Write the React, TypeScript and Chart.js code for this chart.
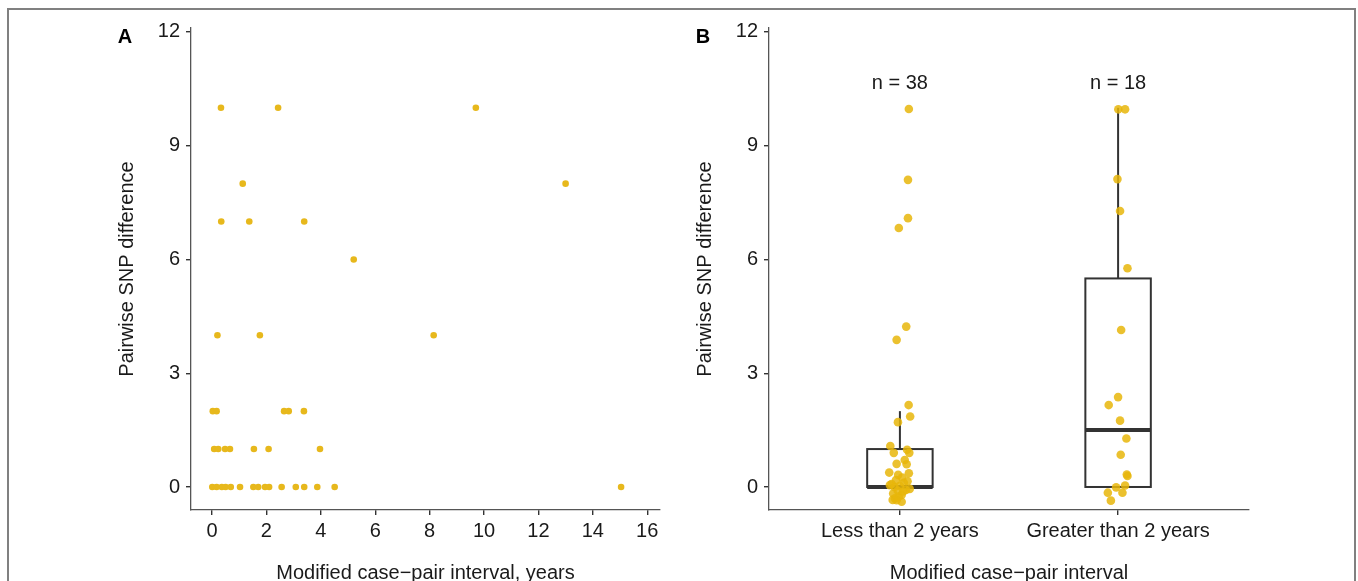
import React, { useEffect, useRef } from "react";
import { Chart, registerables } from "chart.js";

Chart.register(...registerables);

// ---------- data ----------
const snpTickValues = [0, 3, 6, 9, 12];
const intervalTickValues = [0, 2, 4, 6, 8, 10, 12, 14, 16];

// Panel A: modified case-pair interval (years) vs pairwise SNP difference
const intervalYearsA = [
  0.33, 2.43, 9.7,
  1.13, 13.0,
  0.34, 1.37, 3.39,
  5.21,
  0.2, 1.76, 8.15,
  0.03, 0.17, 2.65, 2.82, 3.38,
  0.08, 0.23, 0.48, 0.66, 1.54, 2.08, 3.97,
  0.01, 0.17, 0.36, 0.5, 0.69, 1.03, 1.52, 1.7, 1.95, 2.1, 2.56, 3.08, 3.39, 3.87, 4.51, 15.04,
];
const snpDiffA = [
  10, 10, 10,
  8, 8,
  7, 7, 7,
  6,
  4, 4, 4,
  2, 2, 2, 2, 2,
  1, 1, 1, 1, 1, 1, 1,
  0, 0, 0, 0, 0, 0, 0, 0, 0, 0, 0, 0, 0, 0, 0, 0,
];

// Panel B: groups
const groupLabels = ["Less than 2 years", "Greater than 2 years"];
const groupCounts = [38, 18];
const nLabelLevel = 10.64;

// jittered points, group 1 (x = group position with jitter)
const lessJitterX = [
  1.041, 1.037, 1.037, 0.995, 1.029, 0.985, 1.04, 1.047, 0.991, 0.956,
  0.972, 1.033, 1.043, 1.022, 1.031, 0.985, 0.951, 1.041, 0.992, 0.982,
  1.018, 0.954, 1.028, 0.969, 1.008, 0.977, 1.008, 0.967, 1.0, 0.99,
  1.035, 0.995, 1.01, 0.985, 0.975, 1.045, 0.962, 1.015,
];
const lessSnp = [
  9.97, 8.1, 7.09, 6.83, 4.23, 3.88, 2.16, 1.86, 1.71, 1.08,
  0.9, 0.98, 0.9, 0.71, 0.6, 0.61, 0.38, 0.36, 0.32, 0.18,
  0.11, 0.05, -0.08, -0.17, -0.21, -0.3, -0.39, -0.34, 0.03, -0.1,
  0.15, -0.25, 0.25, -0.35, 0.0, -0.05, 0.08, -0.12,
];
// group 2
const greaterJitterX = [
  2.001, 2.032, 1.997, 2.009, 2.043, 2.014, 2.0, 1.957, 2.009, 2.038,
  2.012, 2.04, 2.043, 1.991, 2.032, 1.953, 2.02, 1.967,
];
const greaterSnp = [
  9.96, 9.96, 8.12, 7.28, 5.77, 4.14, 2.37, 2.16, 1.75, 1.28,
  0.85, 0.33, 0.29, -0.01, 0.04, -0.15, -0.15, -0.36,
];

// box statistics per group
const boxWhiskerLow = [0, 0];
const boxQ1 = [0, 0];
const boxMedian = [0, 1.5];
const boxQ3 = [1, 5.5];
const boxWhiskerHigh = [2, 10];

// ---------- styles ----------
const FONT = "'Liberation Sans', Arial, Helvetica, sans-serif";
const POINT_COLOR_A = "rgb(231,184,28)";
const POINT_COLOR_B = "rgba(231,182,10,0.85)";
const TEXT_COLOR = "#1a1a1a";
const BOX_HALF_WIDTH = 0.15;

function yScaleOpts() {
  return {
    type: "linear" as const,
    min: -0.607,
    max: 12.105,
    afterBuildTicks: (s: any) => {
      s.ticks = snpTickValues.map((v) => ({ value: v }));
    },
    afterFit: (s: any) => {
      s.width = 89;
    },
    ticks: {
      color: TEXT_COLOR,
      font: { family: FONT, size: 20 },
      padding: 6,
      callback: (v: any) => String(v),
    },
    grid: {
      display: true,
      drawOnChartArea: false,
      drawTicks: true,
      tickLength: 5,
      color: "#333",
      lineWidth: 1.4,
    },
    border: { display: true, color: "#555", width: 1.3 },
    title: {
      display: true,
      text: "Pairwise SNP difference",
      color: TEXT_COLOR,
      font: { family: FONT, size: 20 },
      padding: { top: 13, bottom: 0 },
    },
  };
}

function xBaseOpts(title: string) {
  return {
    type: "linear" as const,
    afterFit: (s: any) => {
      s.height = 90;
    },
    grid: {
      display: true,
      drawOnChartArea: false,
      drawTicks: true,
      tickLength: 5,
      color: "#333",
      lineWidth: 1.4,
    },
    border: { display: true, color: "#555", width: 1.3 },
    title: {
      display: true,
      text: title,
      color: TEXT_COLOR,
      font: { family: FONT, size: 20 },
      padding: { top: 0, bottom: 15 },
    },
  };
}

const panelLetterPlugin = {
  id: "panelLetter",
  afterDraw(chart: any) {
    const letter = chart.options.plugins.panelLetter?.text;
    if (!letter) return;
    const { ctx, chartArea } = chart;
    ctx.save();
    ctx.fillStyle = "#000";
    ctx.font = `bold 20px ${FONT}`;
    ctx.textAlign = "center";
    ctx.textBaseline = "middle";
    ctx.fillText(letter, chartArea.left - 66, 37);
    ctx.restore();
  },
};

const boxPlugin = {
  id: "boxes",
  beforeDatasetsDraw(chart: any) {
    const { ctx } = chart;
    const x = chart.scales.x;
    const y = chart.scales.y;
    ctx.save();
    ctx.strokeStyle = "#333";
    for (let i = 0; i < groupLabels.length; i++) {
      const c = i + 1;
      const xl = x.getPixelForValue(c - BOX_HALF_WIDTH);
      const xr = x.getPixelForValue(c + BOX_HALF_WIDTH);
      const xc = x.getPixelForValue(c);
      const yq1 = y.getPixelForValue(boxQ1[i]);
      const yq3 = y.getPixelForValue(boxQ3[i]);
      ctx.lineWidth = 2;
      ctx.beginPath();
      ctx.moveTo(xc, y.getPixelForValue(boxWhiskerHigh[i]));
      ctx.lineTo(xc, yq3);
      ctx.moveTo(xc, yq1);
      ctx.lineTo(xc, y.getPixelForValue(boxWhiskerLow[i]));
      ctx.stroke();
      ctx.strokeRect(xl, yq3, xr - xl, yq1 - yq3);
      ctx.lineWidth = 4;
      ctx.beginPath();
      const ym = y.getPixelForValue(boxMedian[i]);
      ctx.moveTo(xl, ym);
      ctx.lineTo(xr, ym);
      ctx.stroke();
    }
    ctx.restore();
  },
  afterDraw(chart: any) {
    const { ctx } = chart;
    const x = chart.scales.x;
    const y = chart.scales.y;
    ctx.save();
    ctx.fillStyle = TEXT_COLOR;
    ctx.font = `20px ${FONT}`;
    ctx.textAlign = "center";
    ctx.textBaseline = "middle";
    groupCounts.forEach((n, i) => {
      ctx.fillText(`n = ${n}`, x.getPixelForValue(i + 1), y.getPixelForValue(nLabelLevel));
    });
    ctx.restore();
  },
};

export default function App() {
  const refA = useRef<HTMLCanvasElement>(null);
  const refB = useRef<HTMLCanvasElement>(null);

  useEffect(() => {
    const chartA = new Chart(refA.current as HTMLCanvasElement, {
      type: "scatter",
      data: {
        datasets: [
          {
            data: intervalYearsA.map((v, i) => ({ x: v, y: snpDiffA[i] })),
            pointRadius: 3.3,
            pointBackgroundColor: POINT_COLOR_A,
            pointBorderWidth: 0,
          },
        ],
      },
      options: {
        responsive: false,
        animation: false,
        events: [],
        layout: { padding: { left: 0, right: 20, top: 28, bottom: 0 } },
        plugins: {
          legend: { display: false },
          tooltip: { enabled: false },
          panelLetter: { text: "A" },
        } as any,
        scales: {
          x: {
            ...xBaseOpts("Modified case\u2212pair interval, years"),
            min: -0.772,
            max: 16.47,
            afterBuildTicks: (s: any) => {
              s.ticks = intervalTickValues.map((v) => ({ value: v }));
            },
            ticks: {
              color: TEXT_COLOR,
              font: { family: FONT, size: 20 },
              padding: 4,
              autoSkip: false,
              maxRotation: 0,
              callback: (v: any) => String(v),
            },
          },
          y: yScaleOpts(),
        } as any,
      },
      plugins: [panelLetterPlugin],
    });

    const chartB = new Chart(refB.current as HTMLCanvasElement, {
      type: "scatter",
      data: {
        datasets: [
          {
            data: lessJitterX.map((v, i) => ({ x: v, y: lessSnp[i] })),
            pointRadius: 4.3,
            pointBackgroundColor: POINT_COLOR_B,
            pointBorderWidth: 0,
          },
          {
            data: greaterJitterX.map((v, i) => ({ x: v, y: greaterSnp[i] })),
            pointRadius: 4.3,
            pointBackgroundColor: POINT_COLOR_B,
            pointBorderWidth: 0,
          },
        ],
      },
      options: {
        responsive: false,
        animation: false,
        events: [],
        layout: { padding: { left: 0, right: 109, top: 28, bottom: 0 } },
        plugins: {
          legend: { display: false },
          tooltip: { enabled: false },
          panelLetter: { text: "B" },
        } as any,
        scales: {
          x: {
            ...xBaseOpts("Modified case\u2212pair interval"),
            min: 0.4,
            max: 2.6,
            afterBuildTicks: (s: any) => {
              s.ticks = groupLabels.map((_, i) => ({ value: i + 1 }));
            },
            ticks: {
              color: TEXT_COLOR,
              font: { family: FONT, size: 20 },
              padding: 4,
              autoSkip: false,
              maxRotation: 0,
              callback: (v: any) => groupLabels[Math.round(Number(v)) - 1] ?? "",
            },
          },
          y: yScaleOpts(),
        } as any,
      },
      plugins: [panelLetterPlugin, boxPlugin],
    });

    return () => {
      chartA.destroy();
      chartB.destroy();
    };
  }, []);

  return (
    <div
      style={{
        position: "fixed",
        left: 0,
        top: 0,
        width: 1358,
        height: 581,
        overflow: "hidden",
        background: "#fff",
      }}
    >
      <div
        style={{
          position: "absolute",
          left: 7,
          top: 8,
          width: 1349,
          height: 700,
          boxSizing: "border-box",
          border: "2px solid #808080",
        }}
      />
      <canvas
        ref={refA}
        width={578}
        height={600}
        style={{ position: "absolute", left: 102, top: 0 }}
      />
      <canvas
        ref={refB}
        width={678}
        height={600}
        style={{ position: "absolute", left: 680, top: 0 }}
      />
    </div>
  );
}
